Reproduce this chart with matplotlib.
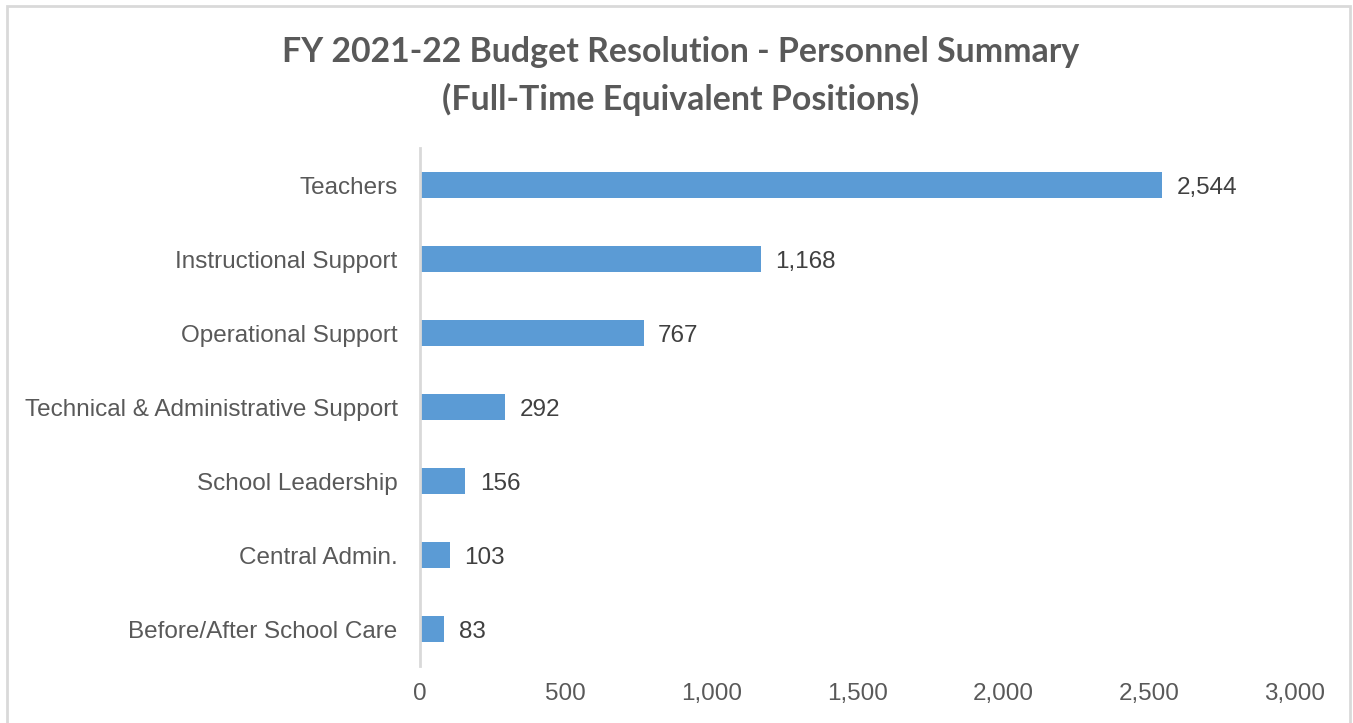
import matplotlib.pyplot as plt
from matplotlib.patches import Rectangle
from matplotlib.ticker import FuncFormatter

categories = ["Teachers", "Instructional Support", "Operational Support",
              "Technical & Administrative Support", "School Leadership",
              "Central Admin.", "Before/After School Care"]
fte = [2544, 1168, 767, 292, 156, 103, 83]

bar_color = "#5B9BD5"
text_gray = "#595959"

fig = plt.figure(figsize=(13.53, 7.23), dpi=100)
ax = fig.add_axes([0.3104, 0.0788, 0.6465, 0.7165])

y = list(range(len(categories)))
ax.barh(y, fte, height=0.35, color=bar_color)
ax.set_ylim(len(categories) - 0.5, -0.5)
ax.set_xlim(0, 3000)
ax.set_xticks([0, 500, 1000, 1500, 2000, 2500, 3000])
ax.xaxis.set_major_formatter(FuncFormatter(lambda v, p: f"{int(v):,}"))
ax.set_yticks(y)
ax.set_yticklabels(categories)

for yi, v in zip(y, fte):
    ax.annotate(f"{v:,}", (v, yi), xytext=(10.5, 0), textcoords="offset points",
                va="center_baseline", ha="left", fontsize=17.5, color="#404040",
                family="Liberation Sans")

for s in ["top", "right", "bottom"]:
    ax.spines[s].set_visible(False)
ax.spines["left"].set_color("#D9D9D9")
ax.spines["left"].set_linewidth(2)
ax.tick_params(length=0, labelsize=17.5, colors=text_gray)
ax.tick_params(axis="x", pad=12)
ax.tick_params(axis="y", pad=16)
for lbl in ax.get_xticklabels() + ax.get_yticklabels():
    lbl.set_family("Liberation Sans")

fig.text(0.503, 0.895, "FY 2021-22 Budget Resolution - Personnel Summary\n(Full-Time Equivalent Positions)",
         ha="center", va="center", fontsize=24.4, fontweight="bold", color=text_gray,
         family="Lato", linespacing=1.53)

# chart frame
fig.patches.append(Rectangle((7 / 1353, -0.01), 1343 / 1353, 1 - 6 / 723 + 0.01,
                             transform=fig.transFigure, fill=False,
                             edgecolor="#D9D9D9", linewidth=2))

fig.savefig("out.png", dpi=100)
